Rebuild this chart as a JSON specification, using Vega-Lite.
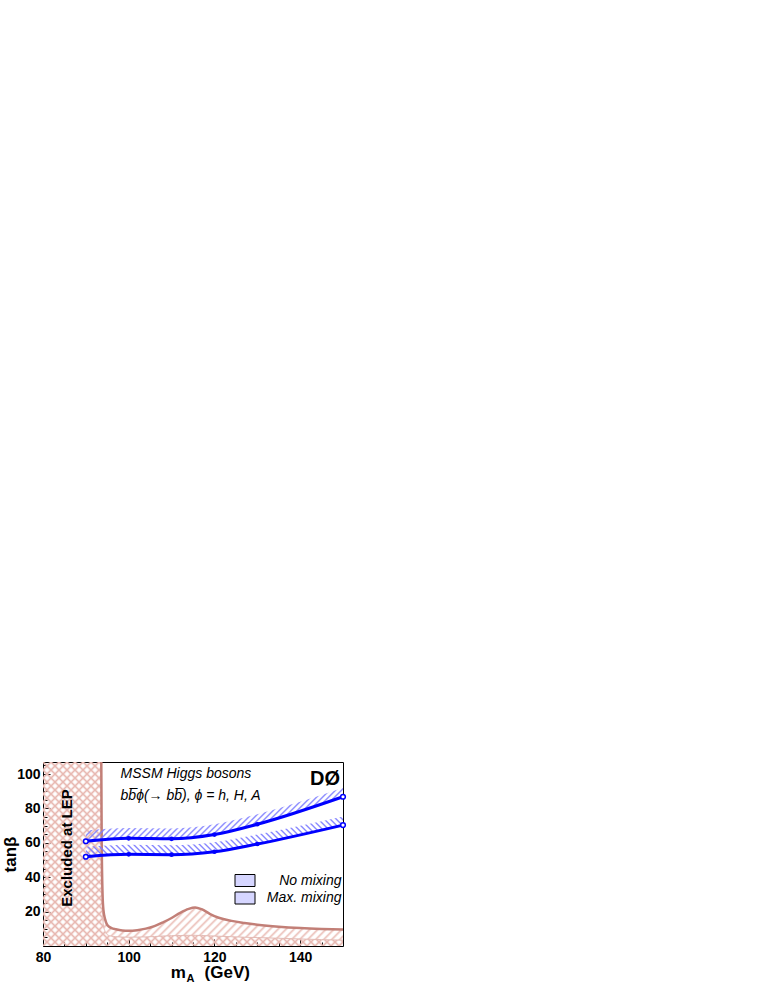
{
  "$schema": "https://vega.github.io/schema/vega-lite/v6.json",
  "autosize": {"type": "none"},
  "width": 300,
  "height": 184,
  "padding": {"left": 43, "top": 762, "right": 422, "bottom": 44},
  "background": "white",
  "config": {
    "view": {"stroke": "black", "strokeWidth": 1},
    "font": "Liberation Sans",
    "text": {"font": "Liberation Sans", "color": "black"}
  },
  "resolve": {"axis": {"x": "independent", "y": "independent"}},
  "datasets": {
    "limits": [
      {"m": 90, "setting": "No mixing", "lim": 60.9, "band": 67.2},
      {"m": 100, "setting": "No mixing", "lim": 62.6, "band": 68.6},
      {"m": 110, "setting": "No mixing", "lim": 62.3, "band": 68.4},
      {"m": 120, "setting": "No mixing", "lim": 64.8, "band": 70.8},
      {"m": 130, "setting": "No mixing", "lim": 70.8, "band": 76.6},
      {"m": 150, "setting": "No mixing", "lim": 86.8, "band": 92.0},
      {"m": 90, "setting": "Max. mixing", "lim": 51.9, "band": 57.7},
      {"m": 100, "setting": "Max. mixing", "lim": 53.3, "band": 58.9},
      {"m": 110, "setting": "Max. mixing", "lim": 53.1, "band": 58.6},
      {"m": 120, "setting": "Max. mixing", "lim": 54.8, "band": 60.3},
      {"m": 130, "setting": "Max. mixing", "lim": 59.3, "band": 64.8},
      {"m": 150, "setting": "Max. mixing", "lim": 70.3, "band": 75.3}
    ],
    "lep": [
      {"m": 80, "edge": 107},
      {"m": 93.6, "edge": 107},
      {"m": 93.7, "edge": 60},
      {"m": 93.9, "edge": 20},
      {"m": 94.1, "edge": 12},
      {"m": 94.5, "edge": 8.5},
      {"m": 95, "edge": 6.6},
      {"m": 96, "edge": 5.7},
      {"m": 97, "edge": 5.4},
      {"m": 98.5, "edge": 5.2},
      {"m": 100, "edge": 5.1},
      {"m": 104, "edge": 5.3},
      {"m": 108, "edge": 5.8},
      {"m": 112, "edge": 6.1},
      {"m": 115.5, "edge": 6.2},
      {"m": 119, "edge": 5.9},
      {"m": 124, "edge": 5.4},
      {"m": 130, "edge": 4.9},
      {"m": 135, "edge": 4.5},
      {"m": 140, "edge": 4.1},
      {"m": 145, "edge": 3.7},
      {"m": 150, "edge": 3.4}
    ],
    "contour": [
      {"m": 93.6, "thick": 107, "thin": 107},
      {"m": 93.7, "thick": 60, "thin": 60},
      {"m": 93.9, "thick": 30, "thin": 20},
      {"m": 94.1, "thick": 21, "thin": 12},
      {"m": 94.5, "thick": 15.5, "thin": 8.5},
      {"m": 95, "thick": 12.2, "thin": 6.6},
      {"m": 96, "thick": 10.4, "thin": 5.7},
      {"m": 97, "thick": 9.7, "thin": 5.4},
      {"m": 98.5, "thick": 9.0, "thin": 5.2},
      {"m": 100, "thick": 8.8, "thin": 5.1},
      {"m": 102, "thick": 9.2, "thin": 5.2},
      {"m": 104, "thick": 10.1, "thin": 5.3},
      {"m": 106, "thick": 11.6, "thin": 5.5},
      {"m": 108, "thick": 13.8, "thin": 5.8},
      {"m": 110, "thick": 16.3, "thin": 6.0},
      {"m": 112, "thick": 19.3, "thin": 6.1},
      {"m": 114, "thick": 21.6, "thin": 6.2},
      {"m": 115.5, "thick": 22.4, "thin": 6.2},
      {"m": 117, "thick": 21.4, "thin": 6.1},
      {"m": 119, "thick": 18.6, "thin": 5.9},
      {"m": 121, "thick": 16.4, "thin": 5.7},
      {"m": 124, "thick": 14.6, "thin": 5.4},
      {"m": 127, "thick": 13.4, "thin": 5.1},
      {"m": 130, "thick": 12.4, "thin": 4.9},
      {"m": 135, "thick": 11.2, "thin": 4.5},
      {"m": 140, "thick": 10.4, "thin": 4.1},
      {"m": 145, "thick": 9.9, "thin": 3.7},
      {"m": 150, "thick": 9.6, "thin": 3.4}
    ]
  },
  "layer": [
    {
      "data": {"name": "lep"},
      "mark": {"type": "area", "interpolate": "monotone", "fill": {"gradient": "linear", "x1": 0, "y1": 0, "x2": 1.9377, "y2": 1.1885, "stops": [
{"offset":0,"color":"#e8b9b2"},{"offset":0.003,"color":"#e8b9b200"},{"offset":0.007,"color":"#e8b9b200"},
{"offset":0.01,"color":"#e8b9b2"},{"offset":0.013,"color":"#e8b9b200"},{"offset":0.017,"color":"#e8b9b200"},
{"offset":0.02,"color":"#e8b9b2"},{"offset":0.023,"color":"#e8b9b200"},{"offset":0.027,"color":"#e8b9b200"},
{"offset":0.03,"color":"#e8b9b2"},{"offset":0.033,"color":"#e8b9b200"},{"offset":0.037,"color":"#e8b9b200"},
{"offset":0.04,"color":"#e8b9b2"},{"offset":0.043,"color":"#e8b9b200"},{"offset":0.047,"color":"#e8b9b200"},
{"offset":0.05,"color":"#e8b9b2"},{"offset":0.053,"color":"#e8b9b200"},{"offset":0.057,"color":"#e8b9b200"},
{"offset":0.06,"color":"#e8b9b2"},{"offset":0.063,"color":"#e8b9b200"},{"offset":0.067,"color":"#e8b9b200"},
{"offset":0.07,"color":"#e8b9b2"},{"offset":0.073,"color":"#e8b9b200"},{"offset":0.077,"color":"#e8b9b200"},
{"offset":0.08,"color":"#e8b9b2"},{"offset":0.083,"color":"#e8b9b200"},{"offset":0.087,"color":"#e8b9b200"},
{"offset":0.09,"color":"#e8b9b2"},{"offset":0.093,"color":"#e8b9b200"},{"offset":0.097,"color":"#e8b9b200"},
{"offset":0.1,"color":"#e8b9b2"},{"offset":0.103,"color":"#e8b9b200"},{"offset":0.107,"color":"#e8b9b200"},
{"offset":0.11,"color":"#e8b9b2"},{"offset":0.113,"color":"#e8b9b200"},{"offset":0.117,"color":"#e8b9b200"},
{"offset":0.12,"color":"#e8b9b2"},{"offset":0.123,"color":"#e8b9b200"},{"offset":0.127,"color":"#e8b9b200"},
{"offset":0.13,"color":"#e8b9b2"},{"offset":0.133,"color":"#e8b9b200"},{"offset":0.137,"color":"#e8b9b200"},
{"offset":0.14,"color":"#e8b9b2"},{"offset":0.143,"color":"#e8b9b200"},{"offset":0.147,"color":"#e8b9b200"},
{"offset":0.15,"color":"#e8b9b2"},{"offset":0.153,"color":"#e8b9b200"},{"offset":0.157,"color":"#e8b9b200"},
{"offset":0.16,"color":"#e8b9b2"},{"offset":0.163,"color":"#e8b9b200"},{"offset":0.167,"color":"#e8b9b200"},
{"offset":0.17,"color":"#e8b9b2"},{"offset":0.173,"color":"#e8b9b200"},{"offset":0.177,"color":"#e8b9b200"},
{"offset":0.18,"color":"#e8b9b2"},{"offset":0.183,"color":"#e8b9b200"},{"offset":0.187,"color":"#e8b9b200"},
{"offset":0.19,"color":"#e8b9b2"},{"offset":0.193,"color":"#e8b9b200"},{"offset":0.197,"color":"#e8b9b200"},
{"offset":0.2,"color":"#e8b9b2"},{"offset":0.203,"color":"#e8b9b200"},{"offset":0.207,"color":"#e8b9b200"},
{"offset":0.21,"color":"#e8b9b2"},{"offset":0.213,"color":"#e8b9b200"},{"offset":0.217,"color":"#e8b9b200"},
{"offset":0.22,"color":"#e8b9b2"},{"offset":0.223,"color":"#e8b9b200"},{"offset":0.227,"color":"#e8b9b200"},
{"offset":0.23,"color":"#e8b9b2"},{"offset":0.233,"color":"#e8b9b200"},{"offset":0.237,"color":"#e8b9b200"},
{"offset":0.24,"color":"#e8b9b2"},{"offset":0.243,"color":"#e8b9b200"},{"offset":0.247,"color":"#e8b9b200"},
{"offset":0.25,"color":"#e8b9b2"},{"offset":0.253,"color":"#e8b9b200"},{"offset":0.257,"color":"#e8b9b200"},
{"offset":0.26,"color":"#e8b9b2"},{"offset":0.263,"color":"#e8b9b200"},{"offset":0.267,"color":"#e8b9b200"},
{"offset":0.27,"color":"#e8b9b2"},{"offset":0.273,"color":"#e8b9b200"},{"offset":0.277,"color":"#e8b9b200"},
{"offset":0.28,"color":"#e8b9b2"},{"offset":0.283,"color":"#e8b9b200"},{"offset":0.287,"color":"#e8b9b200"},
{"offset":0.29,"color":"#e8b9b2"},{"offset":0.293,"color":"#e8b9b200"},{"offset":0.297,"color":"#e8b9b200"},
{"offset":0.3,"color":"#e8b9b2"},{"offset":0.303,"color":"#e8b9b200"},{"offset":0.307,"color":"#e8b9b200"},
{"offset":0.31,"color":"#e8b9b2"},{"offset":0.313,"color":"#e8b9b200"},{"offset":0.317,"color":"#e8b9b200"},
{"offset":0.32,"color":"#e8b9b2"},{"offset":0.323,"color":"#e8b9b200"},{"offset":0.327,"color":"#e8b9b200"},
{"offset":0.33,"color":"#e8b9b2"},{"offset":0.333,"color":"#e8b9b200"},{"offset":0.337,"color":"#e8b9b200"},
{"offset":0.34,"color":"#e8b9b2"},{"offset":0.343,"color":"#e8b9b200"},{"offset":0.347,"color":"#e8b9b200"},
{"offset":0.35,"color":"#e8b9b2"},{"offset":0.353,"color":"#e8b9b200"},{"offset":0.357,"color":"#e8b9b200"},
{"offset":0.36,"color":"#e8b9b2"},{"offset":0.363,"color":"#e8b9b200"},{"offset":0.367,"color":"#e8b9b200"},
{"offset":0.37,"color":"#e8b9b2"},{"offset":0.373,"color":"#e8b9b200"},{"offset":0.377,"color":"#e8b9b200"},
{"offset":0.38,"color":"#e8b9b2"},{"offset":0.383,"color":"#e8b9b200"},{"offset":0.387,"color":"#e8b9b200"},
{"offset":0.39,"color":"#e8b9b2"},{"offset":0.393,"color":"#e8b9b200"},{"offset":0.397,"color":"#e8b9b200"},
{"offset":0.4,"color":"#e8b9b2"},{"offset":0.403,"color":"#e8b9b200"},{"offset":0.407,"color":"#e8b9b200"},
{"offset":0.41,"color":"#e8b9b2"},{"offset":0.413,"color":"#e8b9b200"},{"offset":0.417,"color":"#e8b9b200"},
{"offset":0.42,"color":"#e8b9b2"},{"offset":0.423,"color":"#e8b9b200"},{"offset":0.427,"color":"#e8b9b200"},
{"offset":0.43,"color":"#e8b9b2"},{"offset":0.433,"color":"#e8b9b200"},{"offset":0.437,"color":"#e8b9b200"},
{"offset":0.44,"color":"#e8b9b2"},{"offset":0.443,"color":"#e8b9b200"},{"offset":0.447,"color":"#e8b9b200"},
{"offset":0.45,"color":"#e8b9b2"},{"offset":0.453,"color":"#e8b9b200"},{"offset":0.457,"color":"#e8b9b200"},
{"offset":0.46,"color":"#e8b9b2"},{"offset":0.463,"color":"#e8b9b200"},{"offset":0.467,"color":"#e8b9b200"},
{"offset":0.47,"color":"#e8b9b2"},{"offset":0.473,"color":"#e8b9b200"},{"offset":0.477,"color":"#e8b9b200"},
{"offset":0.48,"color":"#e8b9b2"},{"offset":0.483,"color":"#e8b9b200"},{"offset":0.487,"color":"#e8b9b200"},
{"offset":0.49,"color":"#e8b9b2"},{"offset":0.493,"color":"#e8b9b200"},{"offset":0.497,"color":"#e8b9b200"},
{"offset":0.5,"color":"#e8b9b2"},{"offset":0.503,"color":"#e8b9b200"},{"offset":0.507,"color":"#e8b9b200"},
{"offset":0.51,"color":"#e8b9b2"},{"offset":0.513,"color":"#e8b9b200"},{"offset":0.517,"color":"#e8b9b200"},
{"offset":0.52,"color":"#e8b9b2"},{"offset":0.523,"color":"#e8b9b200"},{"offset":0.527,"color":"#e8b9b200"},
{"offset":0.53,"color":"#e8b9b2"},{"offset":0.533,"color":"#e8b9b200"},{"offset":0.537,"color":"#e8b9b200"},
{"offset":0.54,"color":"#e8b9b2"},{"offset":0.543,"color":"#e8b9b200"},{"offset":0.547,"color":"#e8b9b200"},
{"offset":0.55,"color":"#e8b9b2"},{"offset":0.553,"color":"#e8b9b200"},{"offset":0.557,"color":"#e8b9b200"},
{"offset":0.56,"color":"#e8b9b2"},{"offset":0.563,"color":"#e8b9b200"},{"offset":0.567,"color":"#e8b9b200"},
{"offset":0.57,"color":"#e8b9b2"},{"offset":0.573,"color":"#e8b9b200"},{"offset":0.577,"color":"#e8b9b200"},
{"offset":0.58,"color":"#e8b9b2"},{"offset":0.583,"color":"#e8b9b200"},{"offset":0.587,"color":"#e8b9b200"},
{"offset":0.59,"color":"#e8b9b2"},{"offset":0.593,"color":"#e8b9b200"},{"offset":0.597,"color":"#e8b9b200"},
{"offset":0.6,"color":"#e8b9b2"},{"offset":0.603,"color":"#e8b9b200"},{"offset":0.607,"color":"#e8b9b200"},
{"offset":0.61,"color":"#e8b9b2"}]}},
      "encoding": {
        "x": {
          "field": "m", "type": "quantitative",
          "scale": {"domain": [80, 150], "nice": false, "zero": false},
          "axis": {
            "orient": "bottom", "values": [80, 100, 120, 140],
            "title": null, "grid": false, "domain": false,
            "tickSize": -7, "tickColor": "black", "tickWidth": 1,
            "labelFlush": false, "labelPadding": 11,
            "labelFont": "Liberation Sans", "labelFontWeight": "bold", "labelFontSize": 14, "labelColor": "black"
          }
        },
        "y": {
          "field": "edge", "type": "quantitative",
          "scale": {"domain": [0, 107], "nice": false, "zero": false},
          "axis": {
            "orient": "left", "values": [20, 40, 60, 80, 100],
            "title": "tanβ", "titleFont": "Liberation Sans", "titleFontWeight": "bold", "titleFontSize": 17, "titleColor": "black", "titlePadding": -3,
            "grid": false, "domain": false,
            "tickSize": -7, "tickColor": "black", "tickWidth": 1,
            "labelFlush": false, "labelPadding": 10,
            "labelFont": "Liberation Sans", "labelFontWeight": "bold", "labelFontSize": 14, "labelColor": "black"
          }
        },
        "y2": {"datum": 0}
      }
    },
    {
      "data": {"name": "lep"},
      "mark": {"type": "area", "interpolate": "monotone", "fill": {"gradient": "linear", "x1": 0, "y1": 1, "x2": 1.9377, "y2": -0.1885, "stops": [
{"offset":0,"color":"#e8b9b2"},{"offset":0.003,"color":"#e8b9b200"},{"offset":0.007,"color":"#e8b9b200"},
{"offset":0.01,"color":"#e8b9b2"},{"offset":0.013,"color":"#e8b9b200"},{"offset":0.017,"color":"#e8b9b200"},
{"offset":0.02,"color":"#e8b9b2"},{"offset":0.023,"color":"#e8b9b200"},{"offset":0.027,"color":"#e8b9b200"},
{"offset":0.03,"color":"#e8b9b2"},{"offset":0.033,"color":"#e8b9b200"},{"offset":0.037,"color":"#e8b9b200"},
{"offset":0.04,"color":"#e8b9b2"},{"offset":0.043,"color":"#e8b9b200"},{"offset":0.047,"color":"#e8b9b200"},
{"offset":0.05,"color":"#e8b9b2"},{"offset":0.053,"color":"#e8b9b200"},{"offset":0.057,"color":"#e8b9b200"},
{"offset":0.06,"color":"#e8b9b2"},{"offset":0.063,"color":"#e8b9b200"},{"offset":0.067,"color":"#e8b9b200"},
{"offset":0.07,"color":"#e8b9b2"},{"offset":0.073,"color":"#e8b9b200"},{"offset":0.077,"color":"#e8b9b200"},
{"offset":0.08,"color":"#e8b9b2"},{"offset":0.083,"color":"#e8b9b200"},{"offset":0.087,"color":"#e8b9b200"},
{"offset":0.09,"color":"#e8b9b2"},{"offset":0.093,"color":"#e8b9b200"},{"offset":0.097,"color":"#e8b9b200"},
{"offset":0.1,"color":"#e8b9b2"},{"offset":0.103,"color":"#e8b9b200"},{"offset":0.107,"color":"#e8b9b200"},
{"offset":0.11,"color":"#e8b9b2"},{"offset":0.113,"color":"#e8b9b200"},{"offset":0.117,"color":"#e8b9b200"},
{"offset":0.12,"color":"#e8b9b2"},{"offset":0.123,"color":"#e8b9b200"},{"offset":0.127,"color":"#e8b9b200"},
{"offset":0.13,"color":"#e8b9b2"},{"offset":0.133,"color":"#e8b9b200"},{"offset":0.137,"color":"#e8b9b200"},
{"offset":0.14,"color":"#e8b9b2"},{"offset":0.143,"color":"#e8b9b200"},{"offset":0.147,"color":"#e8b9b200"},
{"offset":0.15,"color":"#e8b9b2"},{"offset":0.153,"color":"#e8b9b200"},{"offset":0.157,"color":"#e8b9b200"},
{"offset":0.16,"color":"#e8b9b2"},{"offset":0.163,"color":"#e8b9b200"},{"offset":0.167,"color":"#e8b9b200"},
{"offset":0.17,"color":"#e8b9b2"},{"offset":0.173,"color":"#e8b9b200"},{"offset":0.177,"color":"#e8b9b200"},
{"offset":0.18,"color":"#e8b9b2"},{"offset":0.183,"color":"#e8b9b200"},{"offset":0.187,"color":"#e8b9b200"},
{"offset":0.19,"color":"#e8b9b2"},{"offset":0.193,"color":"#e8b9b200"},{"offset":0.197,"color":"#e8b9b200"},
{"offset":0.2,"color":"#e8b9b2"},{"offset":0.203,"color":"#e8b9b200"},{"offset":0.207,"color":"#e8b9b200"},
{"offset":0.21,"color":"#e8b9b2"},{"offset":0.213,"color":"#e8b9b200"},{"offset":0.217,"color":"#e8b9b200"},
{"offset":0.22,"color":"#e8b9b2"},{"offset":0.223,"color":"#e8b9b200"},{"offset":0.227,"color":"#e8b9b200"},
{"offset":0.23,"color":"#e8b9b2"},{"offset":0.233,"color":"#e8b9b200"},{"offset":0.237,"color":"#e8b9b200"},
{"offset":0.24,"color":"#e8b9b2"},{"offset":0.243,"color":"#e8b9b200"},{"offset":0.247,"color":"#e8b9b200"},
{"offset":0.25,"color":"#e8b9b2"},{"offset":0.253,"color":"#e8b9b200"},{"offset":0.257,"color":"#e8b9b200"},
{"offset":0.26,"color":"#e8b9b2"},{"offset":0.263,"color":"#e8b9b200"},{"offset":0.267,"color":"#e8b9b200"},
{"offset":0.27,"color":"#e8b9b2"},{"offset":0.273,"color":"#e8b9b200"},{"offset":0.277,"color":"#e8b9b200"},
{"offset":0.28,"color":"#e8b9b2"},{"offset":0.283,"color":"#e8b9b200"},{"offset":0.287,"color":"#e8b9b200"},
{"offset":0.29,"color":"#e8b9b2"},{"offset":0.293,"color":"#e8b9b200"},{"offset":0.297,"color":"#e8b9b200"},
{"offset":0.3,"color":"#e8b9b2"},{"offset":0.303,"color":"#e8b9b200"},{"offset":0.307,"color":"#e8b9b200"},
{"offset":0.31,"color":"#e8b9b2"},{"offset":0.313,"color":"#e8b9b200"},{"offset":0.317,"color":"#e8b9b200"},
{"offset":0.32,"color":"#e8b9b2"},{"offset":0.323,"color":"#e8b9b200"},{"offset":0.327,"color":"#e8b9b200"},
{"offset":0.33,"color":"#e8b9b2"},{"offset":0.333,"color":"#e8b9b200"},{"offset":0.337,"color":"#e8b9b200"},
{"offset":0.34,"color":"#e8b9b2"},{"offset":0.343,"color":"#e8b9b200"},{"offset":0.347,"color":"#e8b9b200"},
{"offset":0.35,"color":"#e8b9b2"},{"offset":0.353,"color":"#e8b9b200"},{"offset":0.357,"color":"#e8b9b200"},
{"offset":0.36,"color":"#e8b9b2"},{"offset":0.363,"color":"#e8b9b200"},{"offset":0.367,"color":"#e8b9b200"},
{"offset":0.37,"color":"#e8b9b2"},{"offset":0.373,"color":"#e8b9b200"},{"offset":0.377,"color":"#e8b9b200"},
{"offset":0.38,"color":"#e8b9b2"},{"offset":0.383,"color":"#e8b9b200"},{"offset":0.387,"color":"#e8b9b200"},
{"offset":0.39,"color":"#e8b9b2"},{"offset":0.393,"color":"#e8b9b200"},{"offset":0.397,"color":"#e8b9b200"},
{"offset":0.4,"color":"#e8b9b2"},{"offset":0.403,"color":"#e8b9b200"},{"offset":0.407,"color":"#e8b9b200"},
{"offset":0.41,"color":"#e8b9b2"},{"offset":0.413,"color":"#e8b9b200"},{"offset":0.417,"color":"#e8b9b200"},
{"offset":0.42,"color":"#e8b9b2"},{"offset":0.423,"color":"#e8b9b200"},{"offset":0.427,"color":"#e8b9b200"},
{"offset":0.43,"color":"#e8b9b2"},{"offset":0.433,"color":"#e8b9b200"},{"offset":0.437,"color":"#e8b9b200"},
{"offset":0.44,"color":"#e8b9b2"},{"offset":0.443,"color":"#e8b9b200"},{"offset":0.447,"color":"#e8b9b200"},
{"offset":0.45,"color":"#e8b9b2"},{"offset":0.453,"color":"#e8b9b200"},{"offset":0.457,"color":"#e8b9b200"},
{"offset":0.46,"color":"#e8b9b2"},{"offset":0.463,"color":"#e8b9b200"},{"offset":0.467,"color":"#e8b9b200"},
{"offset":0.47,"color":"#e8b9b2"},{"offset":0.473,"color":"#e8b9b200"},{"offset":0.477,"color":"#e8b9b200"},
{"offset":0.48,"color":"#e8b9b2"},{"offset":0.483,"color":"#e8b9b200"},{"offset":0.487,"color":"#e8b9b200"},
{"offset":0.49,"color":"#e8b9b2"},{"offset":0.493,"color":"#e8b9b200"},{"offset":0.497,"color":"#e8b9b200"},
{"offset":0.5,"color":"#e8b9b2"},{"offset":0.503,"color":"#e8b9b200"},{"offset":0.507,"color":"#e8b9b200"},
{"offset":0.51,"color":"#e8b9b2"},{"offset":0.513,"color":"#e8b9b200"},{"offset":0.517,"color":"#e8b9b200"},
{"offset":0.52,"color":"#e8b9b2"},{"offset":0.523,"color":"#e8b9b200"},{"offset":0.527,"color":"#e8b9b200"},
{"offset":0.53,"color":"#e8b9b2"},{"offset":0.533,"color":"#e8b9b200"},{"offset":0.537,"color":"#e8b9b200"},
{"offset":0.54,"color":"#e8b9b2"},{"offset":0.543,"color":"#e8b9b200"},{"offset":0.547,"color":"#e8b9b200"},
{"offset":0.55,"color":"#e8b9b2"},{"offset":0.553,"color":"#e8b9b200"},{"offset":0.557,"color":"#e8b9b200"},
{"offset":0.56,"color":"#e8b9b2"},{"offset":0.563,"color":"#e8b9b200"},{"offset":0.567,"color":"#e8b9b200"},
{"offset":0.57,"color":"#e8b9b2"},{"offset":0.573,"color":"#e8b9b200"},{"offset":0.577,"color":"#e8b9b200"},
{"offset":0.58,"color":"#e8b9b2"},{"offset":0.583,"color":"#e8b9b200"},{"offset":0.587,"color":"#e8b9b200"},
{"offset":0.59,"color":"#e8b9b2"},{"offset":0.593,"color":"#e8b9b200"},{"offset":0.597,"color":"#e8b9b200"},
{"offset":0.6,"color":"#e8b9b2"},{"offset":0.603,"color":"#e8b9b200"},{"offset":0.607,"color":"#e8b9b200"},
{"offset":0.61,"color":"#e8b9b2"}]}},
      "encoding": {
        "x": {
          "field": "m", "type": "quantitative",
          "axis": {
            "orient": "bottom", "values": [85, 90, 95, 105, 110, 115, 125, 130, 135, 145],
            "title": null, "grid": false, "domain": false, "labels": false,
            "tickSize": -4, "tickColor": "black", "tickWidth": 1
          }
        },
        "y": {
          "field": "edge", "type": "quantitative",
          "axis": {
            "orient": "left", "values": [5, 10, 15, 25, 30, 35, 45, 50, 55, 65, 70, 75, 85, 90, 95, 105],
            "title": null, "grid": false, "domain": false, "labels": false,
            "tickSize": -4, "tickColor": "black", "tickWidth": 1
          }
        },
        "y2": {"datum": 0}
      }
    },
    {
      "data": {"name": "contour"},
      "mark": {"type": "area", "interpolate": "monotone", "fill": {"gradient": "linear", "x1": 0, "y1": 0, "x2": 2.1443, "y2": 1.5809, "stops": [
{"offset":0,"color":"#ebc0b9"},{"offset":0.003,"color":"#ebc0b900"},{"offset":0.007,"color":"#ebc0b900"},
{"offset":0.01,"color":"#ebc0b9"},{"offset":0.013,"color":"#ebc0b900"},{"offset":0.017,"color":"#ebc0b900"},
{"offset":0.02,"color":"#ebc0b9"},{"offset":0.023,"color":"#ebc0b900"},{"offset":0.027,"color":"#ebc0b900"},
{"offset":0.03,"color":"#ebc0b9"},{"offset":0.033,"color":"#ebc0b900"},{"offset":0.037,"color":"#ebc0b900"},
{"offset":0.04,"color":"#ebc0b9"},{"offset":0.043,"color":"#ebc0b900"},{"offset":0.047,"color":"#ebc0b900"},
{"offset":0.05,"color":"#ebc0b9"},{"offset":0.053,"color":"#ebc0b900"},{"offset":0.057,"color":"#ebc0b900"},
{"offset":0.06,"color":"#ebc0b9"},{"offset":0.063,"color":"#ebc0b900"},{"offset":0.067,"color":"#ebc0b900"},
{"offset":0.07,"color":"#ebc0b9"},{"offset":0.073,"color":"#ebc0b900"},{"offset":0.077,"color":"#ebc0b900"},
{"offset":0.08,"color":"#ebc0b9"},{"offset":0.083,"color":"#ebc0b900"},{"offset":0.087,"color":"#ebc0b900"},
{"offset":0.09,"color":"#ebc0b9"},{"offset":0.093,"color":"#ebc0b900"},{"offset":0.097,"color":"#ebc0b900"},
{"offset":0.1,"color":"#ebc0b9"},{"offset":0.103,"color":"#ebc0b900"},{"offset":0.107,"color":"#ebc0b900"},
{"offset":0.11,"color":"#ebc0b9"},{"offset":0.113,"color":"#ebc0b900"},{"offset":0.117,"color":"#ebc0b900"},
{"offset":0.12,"color":"#ebc0b9"},{"offset":0.123,"color":"#ebc0b900"},{"offset":0.127,"color":"#ebc0b900"},
{"offset":0.13,"color":"#ebc0b9"},{"offset":0.133,"color":"#ebc0b900"},{"offset":0.137,"color":"#ebc0b900"},
{"offset":0.14,"color":"#ebc0b9"},{"offset":0.143,"color":"#ebc0b900"},{"offset":0.147,"color":"#ebc0b900"},
{"offset":0.15,"color":"#ebc0b9"},{"offset":0.153,"color":"#ebc0b900"},{"offset":0.157,"color":"#ebc0b900"},
{"offset":0.16,"color":"#ebc0b9"},{"offset":0.163,"color":"#ebc0b900"},{"offset":0.167,"color":"#ebc0b900"},
{"offset":0.17,"color":"#ebc0b9"},{"offset":0.173,"color":"#ebc0b900"},{"offset":0.177,"color":"#ebc0b900"},
{"offset":0.18,"color":"#ebc0b9"},{"offset":0.183,"color":"#ebc0b900"},{"offset":0.187,"color":"#ebc0b900"},
{"offset":0.19,"color":"#ebc0b9"},{"offset":0.193,"color":"#ebc0b900"},{"offset":0.197,"color":"#ebc0b900"},
{"offset":0.2,"color":"#ebc0b9"},{"offset":0.203,"color":"#ebc0b900"},{"offset":0.207,"color":"#ebc0b900"},
{"offset":0.21,"color":"#ebc0b9"},{"offset":0.213,"color":"#ebc0b900"},{"offset":0.217,"color":"#ebc0b900"},
{"offset":0.22,"color":"#ebc0b9"},{"offset":0.223,"color":"#ebc0b900"},{"offset":0.227,"color":"#ebc0b900"},
{"offset":0.23,"color":"#ebc0b9"},{"offset":0.233,"color":"#ebc0b900"},{"offset":0.237,"color":"#ebc0b900"},
{"offset":0.24,"color":"#ebc0b9"},{"offset":0.243,"color":"#ebc0b900"},{"offset":0.247,"color":"#ebc0b900"},
{"offset":0.25,"color":"#ebc0b9"},{"offset":0.253,"color":"#ebc0b900"},{"offset":0.257,"color":"#ebc0b900"},
{"offset":0.26,"color":"#ebc0b9"},{"offset":0.263,"color":"#ebc0b900"},{"offset":0.267,"color":"#ebc0b900"},
{"offset":0.27,"color":"#ebc0b9"},{"offset":0.273,"color":"#ebc0b900"},{"offset":0.277,"color":"#ebc0b900"},
{"offset":0.28,"color":"#ebc0b9"},{"offset":0.283,"color":"#ebc0b900"},{"offset":0.287,"color":"#ebc0b900"},
{"offset":0.29,"color":"#ebc0b9"},{"offset":0.293,"color":"#ebc0b900"},{"offset":0.297,"color":"#ebc0b900"},
{"offset":0.3,"color":"#ebc0b9"},{"offset":0.303,"color":"#ebc0b900"},{"offset":0.307,"color":"#ebc0b900"},
{"offset":0.31,"color":"#ebc0b9"},{"offset":0.313,"color":"#ebc0b900"},{"offset":0.317,"color":"#ebc0b900"},
{"offset":0.32,"color":"#ebc0b9"},{"offset":0.323,"color":"#ebc0b900"},{"offset":0.327,"color":"#ebc0b900"},
{"offset":0.33,"color":"#ebc0b9"},{"offset":0.333,"color":"#ebc0b900"},{"offset":0.337,"color":"#ebc0b900"},
{"offset":0.34,"color":"#ebc0b9"},{"offset":0.343,"color":"#ebc0b900"},{"offset":0.347,"color":"#ebc0b900"},
{"offset":0.35,"color":"#ebc0b9"},{"offset":0.353,"color":"#ebc0b900"},{"offset":0.357,"color":"#ebc0b900"},
{"offset":0.36,"color":"#ebc0b9"},{"offset":0.363,"color":"#ebc0b900"},{"offset":0.367,"color":"#ebc0b900"},
{"offset":0.37,"color":"#ebc0b9"},{"offset":0.373,"color":"#ebc0b900"},{"offset":0.377,"color":"#ebc0b900"},
{"offset":0.38,"color":"#ebc0b9"},{"offset":0.383,"color":"#ebc0b900"},{"offset":0.387,"color":"#ebc0b900"},
{"offset":0.39,"color":"#ebc0b9"},{"offset":0.393,"color":"#ebc0b900"},{"offset":0.397,"color":"#ebc0b900"},
{"offset":0.4,"color":"#ebc0b9"},{"offset":0.403,"color":"#ebc0b900"},{"offset":0.407,"color":"#ebc0b900"},
{"offset":0.41,"color":"#ebc0b9"},{"offset":0.413,"color":"#ebc0b900"},{"offset":0.417,"color":"#ebc0b900"},
{"offset":0.42,"color":"#ebc0b9"},{"offset":0.423,"color":"#ebc0b900"},{"offset":0.427,"color":"#ebc0b900"},
{"offset":0.43,"color":"#ebc0b9"},{"offset":0.433,"color":"#ebc0b900"},{"offset":0.437,"color":"#ebc0b900"},
{"offset":0.44,"color":"#ebc0b9"},{"offset":0.443,"color":"#ebc0b900"},{"offset":0.447,"color":"#ebc0b900"},
{"offset":0.45,"color":"#ebc0b9"},{"offset":0.453,"color":"#ebc0b900"},{"offset":0.457,"color":"#ebc0b900"},
{"offset":0.46,"color":"#ebc0b9"},{"offset":0.463,"color":"#ebc0b900"},{"offset":0.467,"color":"#ebc0b900"},
{"offset":0.47,"color":"#ebc0b9"},{"offset":0.473,"color":"#ebc0b900"},{"offset":0.477,"color":"#ebc0b900"},
{"offset":0.48,"color":"#ebc0b9"},{"offset":0.483,"color":"#ebc0b900"},{"offset":0.487,"color":"#ebc0b900"},
{"offset":0.49,"color":"#ebc0b9"},{"offset":0.493,"color":"#ebc0b900"},{"offset":0.497,"color":"#ebc0b900"},
{"offset":0.5,"color":"#ebc0b9"},{"offset":0.503,"color":"#ebc0b900"},{"offset":0.507,"color":"#ebc0b900"},
{"offset":0.51,"color":"#ebc0b9"},{"offset":0.513,"color":"#ebc0b900"},{"offset":0.517,"color":"#ebc0b900"},
{"offset":0.52,"color":"#ebc0b9"},{"offset":0.523,"color":"#ebc0b900"},{"offset":0.527,"color":"#ebc0b900"},
{"offset":0.53,"color":"#ebc0b9"}]}},
      "encoding": {
        "x": {"field": "m", "type": "quantitative", "axis": null},
        "y": {"field": "thick", "type": "quantitative", "axis": null},
        "y2": {"field": "thin"}
      }
    },
    {
      "data": {"name": "contour"},
      "mark": {"type": "line", "color": "#e3bbb5", "strokeWidth": 1, "interpolate": "monotone"},
      "encoding": {
        "x": {"field": "m", "type": "quantitative", "axis": null},
        "y": {"field": "thin", "type": "quantitative", "axis": null}
      }
    },
    {
      "data": {"name": "contour"},
      "mark": {"type": "line", "color": "#c27f77", "strokeWidth": 2.5, "interpolate": "monotone"},
      "encoding": {
        "x": {"field": "m", "type": "quantitative", "axis": null},
        "y": {"field": "thick", "type": "quantitative", "axis": null}
      }
    },
    {
      "data": {"name": "limits"},
      "transform": [{"filter": "datum.setting === 'No mixing'"}],
      "mark": {"type": "area", "interpolate": "monotone", "fill": {"gradient": "linear", "x1": 0, "y1": 0, "x2": 2.2369, "y2": 0.4655, "stops": [
{"offset":0,"color":"#7b7bff"},{"offset":0.003,"color":"#7b7bff00"},{"offset":0.007,"color":"#7b7bff00"},
{"offset":0.01,"color":"#7b7bff"},{"offset":0.013,"color":"#7b7bff00"},{"offset":0.017,"color":"#7b7bff00"},
{"offset":0.02,"color":"#7b7bff"},{"offset":0.023,"color":"#7b7bff00"},{"offset":0.027,"color":"#7b7bff00"},
{"offset":0.03,"color":"#7b7bff"},{"offset":0.033,"color":"#7b7bff00"},{"offset":0.037,"color":"#7b7bff00"},
{"offset":0.04,"color":"#7b7bff"},{"offset":0.043,"color":"#7b7bff00"},{"offset":0.047,"color":"#7b7bff00"},
{"offset":0.05,"color":"#7b7bff"},{"offset":0.053,"color":"#7b7bff00"},{"offset":0.057,"color":"#7b7bff00"},
{"offset":0.06,"color":"#7b7bff"},{"offset":0.063,"color":"#7b7bff00"},{"offset":0.067,"color":"#7b7bff00"},
{"offset":0.07,"color":"#7b7bff"},{"offset":0.073,"color":"#7b7bff00"},{"offset":0.077,"color":"#7b7bff00"},
{"offset":0.08,"color":"#7b7bff"},{"offset":0.083,"color":"#7b7bff00"},{"offset":0.087,"color":"#7b7bff00"},
{"offset":0.09,"color":"#7b7bff"},{"offset":0.093,"color":"#7b7bff00"},{"offset":0.097,"color":"#7b7bff00"},
{"offset":0.1,"color":"#7b7bff"},{"offset":0.103,"color":"#7b7bff00"},{"offset":0.107,"color":"#7b7bff00"},
{"offset":0.11,"color":"#7b7bff"},{"offset":0.113,"color":"#7b7bff00"},{"offset":0.117,"color":"#7b7bff00"},
{"offset":0.12,"color":"#7b7bff"},{"offset":0.123,"color":"#7b7bff00"},{"offset":0.127,"color":"#7b7bff00"},
{"offset":0.13,"color":"#7b7bff"},{"offset":0.133,"color":"#7b7bff00"},{"offset":0.137,"color":"#7b7bff00"},
{"offset":0.14,"color":"#7b7bff"},{"offset":0.143,"color":"#7b7bff00"},{"offset":0.147,"color":"#7b7bff00"},
{"offset":0.15,"color":"#7b7bff"},{"offset":0.153,"color":"#7b7bff00"},{"offset":0.157,"color":"#7b7bff00"},
{"offset":0.16,"color":"#7b7bff"},{"offset":0.163,"color":"#7b7bff00"},{"offset":0.167,"color":"#7b7bff00"},
{"offset":0.17,"color":"#7b7bff"},{"offset":0.173,"color":"#7b7bff00"},{"offset":0.177,"color":"#7b7bff00"},
{"offset":0.18,"color":"#7b7bff"},{"offset":0.183,"color":"#7b7bff00"},{"offset":0.187,"color":"#7b7bff00"},
{"offset":0.19,"color":"#7b7bff"},{"offset":0.193,"color":"#7b7bff00"},{"offset":0.197,"color":"#7b7bff00"},
{"offset":0.2,"color":"#7b7bff"},{"offset":0.203,"color":"#7b7bff00"},{"offset":0.207,"color":"#7b7bff00"},
{"offset":0.21,"color":"#7b7bff"},{"offset":0.213,"color":"#7b7bff00"},{"offset":0.217,"color":"#7b7bff00"},
{"offset":0.22,"color":"#7b7bff"},{"offset":0.223,"color":"#7b7bff00"},{"offset":0.227,"color":"#7b7bff00"},
{"offset":0.23,"color":"#7b7bff"},{"offset":0.233,"color":"#7b7bff00"},{"offset":0.237,"color":"#7b7bff00"},
{"offset":0.24,"color":"#7b7bff"},{"offset":0.243,"color":"#7b7bff00"},{"offset":0.247,"color":"#7b7bff00"},
{"offset":0.25,"color":"#7b7bff"},{"offset":0.253,"color":"#7b7bff00"},{"offset":0.257,"color":"#7b7bff00"},
{"offset":0.26,"color":"#7b7bff"},{"offset":0.263,"color":"#7b7bff00"},{"offset":0.267,"color":"#7b7bff00"},
{"offset":0.27,"color":"#7b7bff"},{"offset":0.273,"color":"#7b7bff00"},{"offset":0.277,"color":"#7b7bff00"},
{"offset":0.28,"color":"#7b7bff"},{"offset":0.283,"color":"#7b7bff00"},{"offset":0.287,"color":"#7b7bff00"},
{"offset":0.29,"color":"#7b7bff"},{"offset":0.293,"color":"#7b7bff00"},{"offset":0.297,"color":"#7b7bff00"},
{"offset":0.3,"color":"#7b7bff"},{"offset":0.303,"color":"#7b7bff00"},{"offset":0.307,"color":"#7b7bff00"},
{"offset":0.31,"color":"#7b7bff"},{"offset":0.313,"color":"#7b7bff00"},{"offset":0.317,"color":"#7b7bff00"},
{"offset":0.32,"color":"#7b7bff"},{"offset":0.323,"color":"#7b7bff00"},{"offset":0.327,"color":"#7b7bff00"},
{"offset":0.33,"color":"#7b7bff"},{"offset":0.333,"color":"#7b7bff00"},{"offset":0.337,"color":"#7b7bff00"},
{"offset":0.34,"color":"#7b7bff"},{"offset":0.343,"color":"#7b7bff00"},{"offset":0.347,"color":"#7b7bff00"},
{"offset":0.35,"color":"#7b7bff"},{"offset":0.353,"color":"#7b7bff00"},{"offset":0.357,"color":"#7b7bff00"},
{"offset":0.36,"color":"#7b7bff"},{"offset":0.363,"color":"#7b7bff00"},{"offset":0.367,"color":"#7b7bff00"},
{"offset":0.37,"color":"#7b7bff"},{"offset":0.373,"color":"#7b7bff00"},{"offset":0.377,"color":"#7b7bff00"},
{"offset":0.38,"color":"#7b7bff"},{"offset":0.383,"color":"#7b7bff00"},{"offset":0.387,"color":"#7b7bff00"},
{"offset":0.39,"color":"#7b7bff"},{"offset":0.393,"color":"#7b7bff00"},{"offset":0.397,"color":"#7b7bff00"},
{"offset":0.4,"color":"#7b7bff"},{"offset":0.403,"color":"#7b7bff00"},{"offset":0.407,"color":"#7b7bff00"},
{"offset":0.41,"color":"#7b7bff"},{"offset":0.413,"color":"#7b7bff00"},{"offset":0.417,"color":"#7b7bff00"},
{"offset":0.42,"color":"#7b7bff"},{"offset":0.423,"color":"#7b7bff00"},{"offset":0.427,"color":"#7b7bff00"},
{"offset":0.43,"color":"#7b7bff"},{"offset":0.433,"color":"#7b7bff00"},{"offset":0.437,"color":"#7b7bff00"},
{"offset":0.44,"color":"#7b7bff"},{"offset":0.443,"color":"#7b7bff00"},{"offset":0.447,"color":"#7b7bff00"},
{"offset":0.45,"color":"#7b7bff"},{"offset":0.453,"color":"#7b7bff00"},{"offset":0.457,"color":"#7b7bff00"},
{"offset":0.46,"color":"#7b7bff"},{"offset":0.463,"color":"#7b7bff00"},{"offset":0.467,"color":"#7b7bff00"},
{"offset":0.47,"color":"#7b7bff"},{"offset":0.473,"color":"#7b7bff00"},{"offset":0.477,"color":"#7b7bff00"},
{"offset":0.48,"color":"#7b7bff"},{"offset":0.483,"color":"#7b7bff00"},{"offset":0.487,"color":"#7b7bff00"},
{"offset":0.49,"color":"#7b7bff"},{"offset":0.493,"color":"#7b7bff00"},{"offset":0.497,"color":"#7b7bff00"},
{"offset":0.5,"color":"#7b7bff"},{"offset":0.503,"color":"#7b7bff00"},{"offset":0.507,"color":"#7b7bff00"},
{"offset":0.51,"color":"#7b7bff"},{"offset":0.513,"color":"#7b7bff00"},{"offset":0.517,"color":"#7b7bff00"},
{"offset":0.52,"color":"#7b7bff"},{"offset":0.523,"color":"#7b7bff00"},{"offset":0.527,"color":"#7b7bff00"},
{"offset":0.53,"color":"#7b7bff"}]}},
      "encoding": {
        "x": {"field": "m", "type": "quantitative", "axis": null},
        "y": {"field": "lim", "type": "quantitative", "axis": null},
        "y2": {"field": "band"}
      }
    },
    {
      "data": {"name": "limits"},
      "transform": [{"filter": "datum.setting === 'Max. mixing'"}],
      "mark": {"type": "area", "interpolate": "monotone", "fill": {"gradient": "linear", "x1": 0, "y1": 1, "x2": 2.2781, "y2": 0.6438, "stops": [
{"offset":0,"color":"#7b7bff"},{"offset":0.003,"color":"#7b7bff00"},{"offset":0.007,"color":"#7b7bff00"},
{"offset":0.01,"color":"#7b7bff"},{"offset":0.013,"color":"#7b7bff00"},{"offset":0.017,"color":"#7b7bff00"},
{"offset":0.02,"color":"#7b7bff"},{"offset":0.023,"color":"#7b7bff00"},{"offset":0.027,"color":"#7b7bff00"},
{"offset":0.03,"color":"#7b7bff"},{"offset":0.033,"color":"#7b7bff00"},{"offset":0.037,"color":"#7b7bff00"},
{"offset":0.04,"color":"#7b7bff"},{"offset":0.043,"color":"#7b7bff00"},{"offset":0.047,"color":"#7b7bff00"},
{"offset":0.05,"color":"#7b7bff"},{"offset":0.053,"color":"#7b7bff00"},{"offset":0.057,"color":"#7b7bff00"},
{"offset":0.06,"color":"#7b7bff"},{"offset":0.063,"color":"#7b7bff00"},{"offset":0.067,"color":"#7b7bff00"},
{"offset":0.07,"color":"#7b7bff"},{"offset":0.073,"color":"#7b7bff00"},{"offset":0.077,"color":"#7b7bff00"},
{"offset":0.08,"color":"#7b7bff"},{"offset":0.083,"color":"#7b7bff00"},{"offset":0.087,"color":"#7b7bff00"},
{"offset":0.09,"color":"#7b7bff"},{"offset":0.093,"color":"#7b7bff00"},{"offset":0.097,"color":"#7b7bff00"},
{"offset":0.1,"color":"#7b7bff"},{"offset":0.103,"color":"#7b7bff00"},{"offset":0.107,"color":"#7b7bff00"},
{"offset":0.11,"color":"#7b7bff"},{"offset":0.113,"color":"#7b7bff00"},{"offset":0.117,"color":"#7b7bff00"},
{"offset":0.12,"color":"#7b7bff"},{"offset":0.123,"color":"#7b7bff00"},{"offset":0.127,"color":"#7b7bff00"},
{"offset":0.13,"color":"#7b7bff"},{"offset":0.133,"color":"#7b7bff00"},{"offset":0.137,"color":"#7b7bff00"},
{"offset":0.14,"color":"#7b7bff"},{"offset":0.143,"color":"#7b7bff00"},{"offset":0.147,"color":"#7b7bff00"},
{"offset":0.15,"color":"#7b7bff"},{"offset":0.153,"color":"#7b7bff00"},{"offset":0.157,"color":"#7b7bff00"},
{"offset":0.16,"color":"#7b7bff"},{"offset":0.163,"color":"#7b7bff00"},{"offset":0.167,"color":"#7b7bff00"},
{"offset":0.17,"color":"#7b7bff"},{"offset":0.173,"color":"#7b7bff00"},{"offset":0.177,"color":"#7b7bff00"},
{"offset":0.18,"color":"#7b7bff"},{"offset":0.183,"color":"#7b7bff00"},{"offset":0.187,"color":"#7b7bff00"},
{"offset":0.19,"color":"#7b7bff"},{"offset":0.193,"color":"#7b7bff00"},{"offset":0.197,"color":"#7b7bff00"},
{"offset":0.2,"color":"#7b7bff"},{"offset":0.203,"color":"#7b7bff00"},{"offset":0.207,"color":"#7b7bff00"},
{"offset":0.21,"color":"#7b7bff"},{"offset":0.213,"color":"#7b7bff00"},{"offset":0.217,"color":"#7b7bff00"},
{"offset":0.22,"color":"#7b7bff"},{"offset":0.223,"color":"#7b7bff00"},{"offset":0.227,"color":"#7b7bff00"},
{"offset":0.23,"color":"#7b7bff"},{"offset":0.233,"color":"#7b7bff00"},{"offset":0.237,"color":"#7b7bff00"},
{"offset":0.24,"color":"#7b7bff"},{"offset":0.243,"color":"#7b7bff00"},{"offset":0.247,"color":"#7b7bff00"},
{"offset":0.25,"color":"#7b7bff"},{"offset":0.253,"color":"#7b7bff00"},{"offset":0.257,"color":"#7b7bff00"},
{"offset":0.26,"color":"#7b7bff"},{"offset":0.263,"color":"#7b7bff00"},{"offset":0.267,"color":"#7b7bff00"},
{"offset":0.27,"color":"#7b7bff"},{"offset":0.273,"color":"#7b7bff00"},{"offset":0.277,"color":"#7b7bff00"},
{"offset":0.28,"color":"#7b7bff"},{"offset":0.283,"color":"#7b7bff00"},{"offset":0.287,"color":"#7b7bff00"},
{"offset":0.29,"color":"#7b7bff"},{"offset":0.293,"color":"#7b7bff00"},{"offset":0.297,"color":"#7b7bff00"},
{"offset":0.3,"color":"#7b7bff"},{"offset":0.303,"color":"#7b7bff00"},{"offset":0.307,"color":"#7b7bff00"},
{"offset":0.31,"color":"#7b7bff"},{"offset":0.313,"color":"#7b7bff00"},{"offset":0.317,"color":"#7b7bff00"},
{"offset":0.32,"color":"#7b7bff"},{"offset":0.323,"color":"#7b7bff00"},{"offset":0.327,"color":"#7b7bff00"},
{"offset":0.33,"color":"#7b7bff"},{"offset":0.333,"color":"#7b7bff00"},{"offset":0.337,"color":"#7b7bff00"},
{"offset":0.34,"color":"#7b7bff"},{"offset":0.343,"color":"#7b7bff00"},{"offset":0.347,"color":"#7b7bff00"},
{"offset":0.35,"color":"#7b7bff"},{"offset":0.353,"color":"#7b7bff00"},{"offset":0.357,"color":"#7b7bff00"},
{"offset":0.36,"color":"#7b7bff"},{"offset":0.363,"color":"#7b7bff00"},{"offset":0.367,"color":"#7b7bff00"},
{"offset":0.37,"color":"#7b7bff"},{"offset":0.373,"color":"#7b7bff00"},{"offset":0.377,"color":"#7b7bff00"},
{"offset":0.38,"color":"#7b7bff"},{"offset":0.383,"color":"#7b7bff00"},{"offset":0.387,"color":"#7b7bff00"},
{"offset":0.39,"color":"#7b7bff"},{"offset":0.393,"color":"#7b7bff00"},{"offset":0.397,"color":"#7b7bff00"},
{"offset":0.4,"color":"#7b7bff"},{"offset":0.403,"color":"#7b7bff00"},{"offset":0.407,"color":"#7b7bff00"},
{"offset":0.41,"color":"#7b7bff"},{"offset":0.413,"color":"#7b7bff00"},{"offset":0.417,"color":"#7b7bff00"},
{"offset":0.42,"color":"#7b7bff"},{"offset":0.423,"color":"#7b7bff00"},{"offset":0.427,"color":"#7b7bff00"},
{"offset":0.43,"color":"#7b7bff"},{"offset":0.433,"color":"#7b7bff00"},{"offset":0.437,"color":"#7b7bff00"},
{"offset":0.44,"color":"#7b7bff"},{"offset":0.443,"color":"#7b7bff00"},{"offset":0.447,"color":"#7b7bff00"},
{"offset":0.45,"color":"#7b7bff"},{"offset":0.453,"color":"#7b7bff00"},{"offset":0.457,"color":"#7b7bff00"},
{"offset":0.46,"color":"#7b7bff"},{"offset":0.463,"color":"#7b7bff00"},{"offset":0.467,"color":"#7b7bff00"},
{"offset":0.47,"color":"#7b7bff"},{"offset":0.473,"color":"#7b7bff00"},{"offset":0.477,"color":"#7b7bff00"},
{"offset":0.48,"color":"#7b7bff"},{"offset":0.483,"color":"#7b7bff00"},{"offset":0.487,"color":"#7b7bff00"},
{"offset":0.49,"color":"#7b7bff"},{"offset":0.493,"color":"#7b7bff00"},{"offset":0.497,"color":"#7b7bff00"},
{"offset":0.5,"color":"#7b7bff"},{"offset":0.503,"color":"#7b7bff00"},{"offset":0.507,"color":"#7b7bff00"},
{"offset":0.51,"color":"#7b7bff"},{"offset":0.513,"color":"#7b7bff00"},{"offset":0.517,"color":"#7b7bff00"},
{"offset":0.52,"color":"#7b7bff"},{"offset":0.523,"color":"#7b7bff00"},{"offset":0.527,"color":"#7b7bff00"},
{"offset":0.53,"color":"#7b7bff"}]}},
      "encoding": {
        "x": {"field": "m", "type": "quantitative", "axis": null},
        "y": {"field": "lim", "type": "quantitative", "axis": null},
        "y2": {"field": "band"}
      }
    },
    {
      "data": {"name": "limits"},
      "mark": {"type": "area", "interpolate": "monotone", "opacity": 0, "stroke": "black", "strokeWidth": 1},
      "encoding": {
        "x": {"field": "m", "type": "quantitative", "axis": null},
        "y": {"field": "lim", "type": "quantitative", "axis": null},
        "y2": {"field": "band"},
        "color": {
          "field": "setting", "type": "nominal",
          "scale": {"domain": ["No mixing", "Max. mixing"], "range": ["#d6d6ff", "#d6d6ff"]},
          "legend": {
            "orient": "none", "legendX": 193.5, "legendY": 110, "title": null, "padding": 0,
            "symbolType": "M-1.25,-0.75H1.25V0.75H-1.25Z", "symbolSize": 256,
            "symbolStrokeColor": "black", "symbolStrokeWidth": 1, "symbolOpacity": 1,
            "labelFont": "Liberation Sans", "labelFontStyle": "italic", "labelFontSize": 14, "labelColor": "black",
            "labelAlign": "right", "labelOffset": 88, "rowPadding": 0.5
          }
        }
      }
    },
    {
      "data": {"name": "limits"},
      "mark": {"type": "line", "color": "#0000ff", "strokeWidth": 3, "interpolate": "monotone"},
      "encoding": {
        "x": {"field": "m", "type": "quantitative", "axis": null},
        "y": {"field": "lim", "type": "quantitative", "axis": null},
        "detail": {"field": "setting"}
      }
    },
    {
      "data": {"name": "limits"},
      "transform": [{"filter": "datum.m != 90 && datum.m != 150"}],
      "mark": {"type": "point", "filled": true, "color": "#0000ff", "size": 22, "opacity": 1},
      "encoding": {
        "x": {"field": "m", "type": "quantitative", "axis": null},
        "y": {"field": "lim", "type": "quantitative", "axis": null}
      }
    },
    {
      "data": {"name": "limits"},
      "transform": [{"filter": "datum.m == 90 || datum.m == 150"}],
      "mark": {"type": "point", "filled": true, "fill": "white", "stroke": "#0000ff", "strokeWidth": 1.5, "size": 22, "opacity": 1},
      "encoding": {
        "x": {"field": "m", "type": "quantitative", "axis": null},
        "y": {"field": "lim", "type": "quantitative", "axis": null}
      }
    },
    {
      "data": {"values": [{"t": "MSSM Higgs bosons"}]},
      "mark": {"type": "text", "align": "left", "baseline": "alphabetic", "fontSize": 14, "fontStyle": "italic"},
      "encoding": {
        "x": {"datum": 98.1, "type": "quantitative", "axis": null},
        "y": {"datum": 97.7, "type": "quantitative", "axis": null},
        "text": {"field": "t"}
      }
    },
    {
      "data": {"values": [{"t": "bb̅ϕ(→ bb̅), ϕ = h, H, A"}]},
      "mark": {"type": "text", "align": "left", "baseline": "alphabetic", "fontSize": 14, "fontStyle": "italic"},
      "encoding": {
        "x": {"datum": 98.1, "type": "quantitative", "axis": null},
        "y": {"datum": 84.9, "type": "quantitative", "axis": null},
        "text": {"field": "t"}
      }
    },
    {
      "data": {"values": [{"t": "DØ"}]},
      "mark": {"type": "text", "align": "right", "baseline": "alphabetic", "fontSize": 20, "fontWeight": "bold"},
      "encoding": {
        "x": {"datum": 149.3, "type": "quantitative", "axis": null},
        "y": {"datum": 93.6, "type": "quantitative", "axis": null},
        "text": {"field": "t"}
      }
    },
    {
      "data": {"values": [{"t": "Excluded at LEP"}]},
      "mark": {"type": "text", "align": "center", "baseline": "middle", "angle": 270, "fontSize": 15, "fontWeight": "bold"},
      "encoding": {
        "x": {"datum": 85.7, "type": "quantitative", "axis": null},
        "y": {"datum": 57, "type": "quantitative", "axis": null},
        "text": {"field": "t"}
      }
    },
    {
      "data": {"values": [{"t": "m"}]},
      "mark": {"type": "text", "align": "left", "baseline": "alphabetic", "fontSize": 17, "fontWeight": "bold"},
      "encoding": {
        "x": {"datum": 109.8, "type": "quantitative", "axis": null},
        "y": {"datum": -18.6, "type": "quantitative", "axis": null},
        "text": {"field": "t"}
      }
    },
    {
      "data": {"values": [{"t": "A"}]},
      "mark": {"type": "text", "align": "left", "baseline": "alphabetic", "fontSize": 11, "fontWeight": "bold"},
      "encoding": {
        "x": {"datum": 113.5, "type": "quantitative", "axis": null},
        "y": {"datum": -20.9, "type": "quantitative", "axis": null},
        "text": {"field": "t"}
      }
    },
    {
      "data": {"values": [{"t": "(GeV)"}]},
      "mark": {"type": "text", "align": "left", "baseline": "alphabetic", "fontSize": 17, "fontWeight": "bold"},
      "encoding": {
        "x": {"datum": 117.7, "type": "quantitative", "axis": null},
        "y": {"datum": -18.6, "type": "quantitative", "axis": null},
        "text": {"field": "t"}
      }
    }
  ]
}
